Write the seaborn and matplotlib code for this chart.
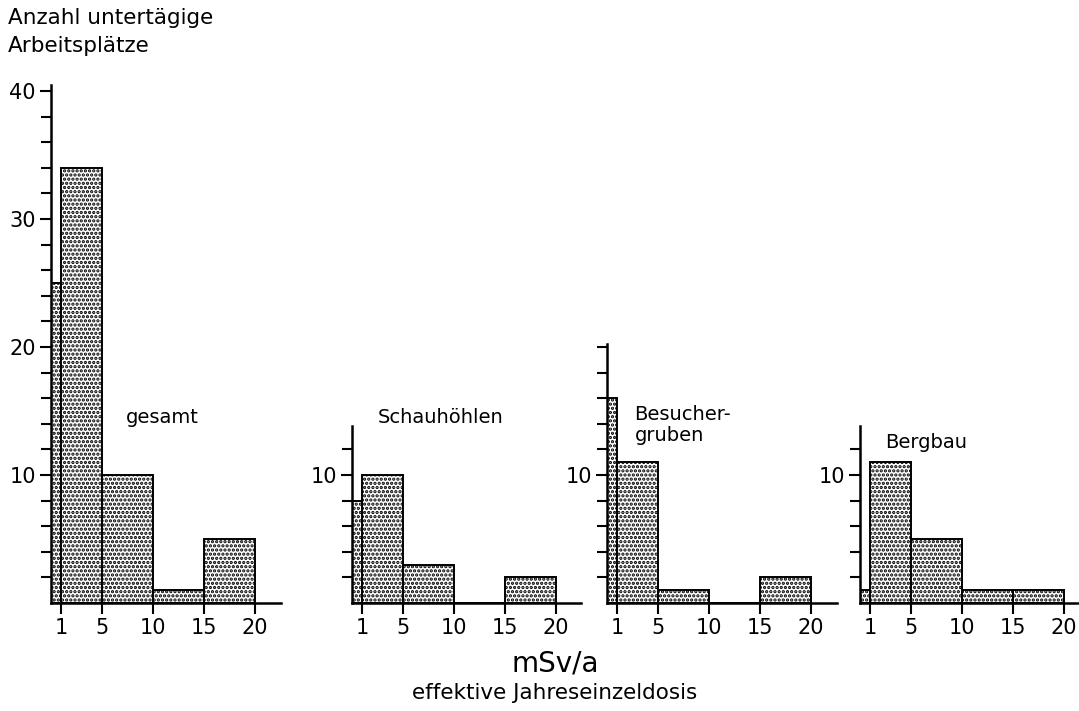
import numpy as np
import pandas as pd
import matplotlib.pyplot as plt
import seaborn as sns

sns.set_style('ticks', {'axes.edgecolor': 'black', 'text.color': 'black',
                        'xtick.color': 'black', 'ytick.color': 'black',
                        'axes.labelcolor': 'black'})
plt.rcParams['font.family'] = ['DejaVu Sans']
plt.rcParams['hatch.linewidth'] = 1.6
plt.rcParams['hatch.color'] = 'black'

# dose classes (mSv/a) and number of underground workplaces per class
edges = [0, 1, 5, 10, 15, 20]
centers = [0.5, 3, 7.5, 12.5, 17.5]
gesamt = [25, 34, 10, 1, 5]
schauhoehlen = [8, 10, 3, 0, 2]
besuchergruben = [16, 11, 1, 0, 2]
bergbau = [1, 11, 5, 1, 1]
xticks = [1, 5, 10, 15, 20]

W, H = 1079, 711
px_x, px_y = 10.2, 12.8      # pixels per data unit
base = 603                   # baseline, pixels from top
xmax = 22.5

panels = [
    # counts, axis x (px), ymax, labelled ticks, label, label pos
    (gesamt, 51, 40.5, [10, 20, 30, 40], 'gesamt', (7.3, 14.5)),
    (schauhoehlen, 352, 13.8, [10], 'Schauhöhlen', (2.5, 14.5)),
    (besuchergruben, 607, 20.2, [10], 'Besucher-\ngruben', (2.7, 13.9)),
    (bergbau, 860, 13.8, [10], 'Bergbau', (2.45, 12.5)),
]

fig = plt.figure(figsize=(W / 100, H / 100), dpi=100)

for counts, left, ymax, major, label, pos in panels:
    ax = fig.add_axes([left / W, (H - base) / H, xmax * px_x / W, ymax * px_y / H])
    sns.histplot(x=centers, weights=counts, bins=edges, ax=ax,
                 color='white', edgecolor='black', linewidth=1.4,
                 alpha=1, hatch='....')
    ax.set_xlim(0, xmax)
    ax.set_ylim(0, ymax)
    ax.set_xticks(xticks)
    ax.set_yticks(major)
    ax.set_yticks(np.arange(2, ymax, 2), minor=True)
    ax.set_xlabel('')
    ax.set_ylabel('')
    sns.despine(ax=ax)
    for s in ['left', 'bottom']:
        ax.spines[s].set_linewidth(1.8)
    ax.tick_params(which='both', direction='out', width=1.5, labelsize=15, pad=3)
    ax.tick_params(which='major', length=8)
    ax.tick_params(which='minor', length=7)
    ax.text(pos[0], pos[1], label, fontsize=14, va='center', ha='left',
            linespacing=1.1)

fig.text(8 / W, 1 - 18 / H, 'Anzahl untertägige', fontsize=15.5, va='center')
fig.text(8 / W, 1 - 46 / H, 'Arbeitsplätze', fontsize=15.5, va='center')
fig.text(555 / W, 1 - 663 / H, 'mSv/a', fontsize=20, ha='center', va='center')
fig.text(555 / W, 1 - 693 / H, 'effektive Jahreseinzeldosis', fontsize=15.5,
         ha='center', va='center')

plt.savefig('out.png', dpi=100)
